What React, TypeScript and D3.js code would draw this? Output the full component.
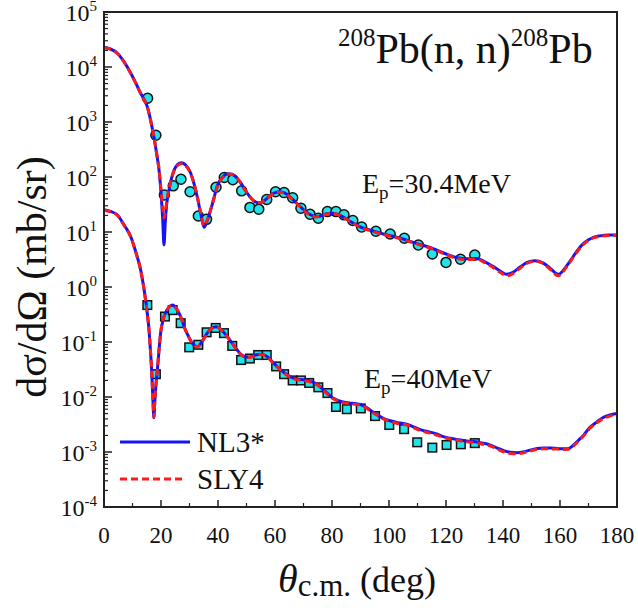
import React from "react";
import * as d3 from "d3";

// ---------- data ----------
const theta30 = [0, 2, 4.7, 7, 9.4, 11, 12.9, 14, 15.2, 16.4, 17.5, 18.5, 19.3, 20.1, 20.6, 21.05, 21.5, 22, 22.8, 23.7, 24.6, 25.8, 27.1, 28.5, 30.4, 31.6, 32.7, 33.9, 35.1, 36.2, 37.4, 38.6, 39.8, 41.5, 43.5, 45, 46.5, 48, 49.5, 51, 52.5, 54, 55.5, 57, 58.5, 60, 61.8, 63.5, 65, 66.5, 68, 69.5, 71, 72.5, 74.3, 76, 78, 80.4, 82.5, 84.5, 86.5, 88.5, 90.5, 93, 95.5, 98, 100.5, 103, 105.5, 108, 110.5, 113, 115.5, 118, 121, 124, 127, 130.8, 133.5, 136.6, 139, 141.3, 143.5, 146, 148.5, 151.2, 154, 156.5, 159.4, 162, 164, 165.8, 168, 170, 171.7, 174, 177, 180];
const nl3_30 = [22900, 21500, 17800, 12500, 7700, 5300, 3300, 2600, 1900, 1050, 540, 260, 135, 44, 17, 5.8, 15, 32, 58, 95, 134, 168, 182, 168, 118, 75, 44, 22, 12.2, 16, 25, 42, 70, 98, 115, 112, 98, 78, 58, 45, 37, 34, 35, 40, 47, 52, 54, 51, 45, 38, 32, 27, 23, 20.5, 19, 19.5, 21.5, 22, 20.5, 18, 15.5, 13.5, 12, 11, 10, 9.2, 8.6, 8.0, 7.3, 6.6, 6.0, 5.5, 5.0, 4.4, 3.8, 3.4, 3.25, 3.3, 2.9, 2.35, 1.95, 1.7, 1.85, 2.3, 2.8, 3.0, 2.75, 2.2, 1.7, 2.3, 3.2, 4.4, 6.0, 7.2, 8.0, 8.5, 8.8, 8.8];
const sly_30 = [22700, 21300, 17600, 12400, 7600, 5250, 3250, 2550, 1880, 1040, 540, 265, 140, 52, 28, 18, 22, 36, 60, 94, 130, 162, 175, 163, 116, 75, 45, 23, 13, 16.5, 25, 41, 68, 96, 113, 111, 97, 77, 58, 45, 37, 34, 35, 40, 46, 51, 53, 50, 44, 37.5, 31.5, 26.5, 22.5, 20, 18.8, 19.3, 21.2, 21.8, 20.3, 17.8, 15.3, 13.3, 11.8, 10.8, 9.8, 9.0, 8.4, 7.8, 7.1, 6.5, 5.9, 5.4, 4.9, 4.3, 3.7, 3.3, 3.15, 3.2, 2.8, 2.25, 1.85, 1.6, 1.75, 2.2, 2.7, 2.95, 2.7, 2.1, 1.6, 2.2, 3.1, 4.2, 5.8, 7.0, 7.8, 8.3, 8.6, 8.7];

const theta40 = [0, 2, 4.7, 7, 9.4, 11, 12.9, 13.8, 14.6, 15.2, 15.8, 16.3, 16.8, 17.2, 17.5, 17.8, 18.2, 18.7, 19.3, 19.9, 20.7, 21.6, 22.8, 24, 25.4, 26.9, 28.3, 29.8, 31.2, 32.7, 34.3, 36.2, 37.8, 39.4, 41.3, 43.3, 45, 46.5, 48, 49.5, 51, 52.8, 54.5, 56, 57.5, 59, 60.5, 62, 63.5, 65, 66.5, 68, 70, 72, 74, 75.5, 77, 78.5, 80, 81.6, 83.5, 86, 88, 90, 92, 94, 96, 98, 100.4, 103, 106.2, 109, 111.5, 114.4, 117, 119, 121.4, 124, 126.5, 129.6, 132.5, 135.4, 138, 140.5, 142.5, 144.8, 147, 149.5, 152, 154.2, 156.5, 159, 161, 162.8, 164.5, 166.3, 168.2, 170.5, 172.9, 175, 177.5, 180];
const nl3_40 = [25.5, 24, 20.4, 13.5, 8.2, 4.6, 2.0, 1.1, 0.58, 0.33, 0.165, 0.07, 0.025, 0.008, 0.0042, 0.008, 0.016, 0.03, 0.07, 0.15, 0.25, 0.34, 0.43, 0.47, 0.41, 0.29, 0.18, 0.122, 0.092, 0.082, 0.1, 0.145, 0.178, 0.19, 0.165, 0.125, 0.095, 0.074, 0.06, 0.054, 0.053, 0.057, 0.06, 0.059, 0.053, 0.044, 0.037, 0.031, 0.027, 0.024, 0.022, 0.021, 0.0205, 0.0195, 0.018, 0.016, 0.0135, 0.0115, 0.0098, 0.0089, 0.0082, 0.0078, 0.0076, 0.0073, 0.0065, 0.0055, 0.0047, 0.0041, 0.0037, 0.0034, 0.0032, 0.0028, 0.0025, 0.0023, 0.0021, 0.0019, 0.00178, 0.00168, 0.0016, 0.00155, 0.00146, 0.00135, 0.00118, 0.00105, 0.00099, 0.00097, 0.001, 0.00108, 0.00116, 0.00118, 0.00118, 0.00116, 0.00114, 0.00115, 0.0013, 0.0016, 0.002, 0.0028, 0.0035, 0.0042, 0.0047, 0.005];
const sly_40 = [25, 23.6, 20.1, 13.3, 8.1, 4.55, 1.98, 1.09, 0.57, 0.325, 0.163, 0.07, 0.025, 0.008, 0.0043, 0.008, 0.016, 0.031, 0.072, 0.15, 0.25, 0.34, 0.43, 0.465, 0.405, 0.285, 0.178, 0.12, 0.091, 0.081, 0.099, 0.143, 0.175, 0.187, 0.163, 0.123, 0.094, 0.073, 0.059, 0.053, 0.052, 0.056, 0.059, 0.058, 0.052, 0.043, 0.036, 0.0305, 0.0265, 0.0235, 0.0215, 0.0205, 0.02, 0.019, 0.0176, 0.0157, 0.0132, 0.0112, 0.0096, 0.0087, 0.008, 0.0076, 0.0074, 0.0071, 0.0063, 0.0053, 0.0046, 0.004, 0.0036, 0.0033, 0.0031, 0.0027, 0.0024, 0.0022, 0.002, 0.00185, 0.00172, 0.00163, 0.00155, 0.0015, 0.0014, 0.0013, 0.00113, 0.001, 0.00094, 0.00093, 0.00096, 0.00104, 0.00112, 0.00114, 0.00114, 0.00113, 0.00111, 0.00112, 0.00126, 0.00155, 0.00195, 0.0027, 0.0034, 0.004, 0.0045, 0.0048];

const expTheta30 = [15.3, 18.2, 21.2, 24.3, 27, 30.2, 33.1, 36, 39.3, 42.2, 45.2, 48.3, 51.2, 54.3, 57.1, 60.2, 63.2, 66.2, 69.1, 72.3, 75.2, 78.4, 81.4, 84.2, 87.3, 90.4, 95.4, 100.4, 105.4, 110.3, 115.2, 120, 125.1, 130.1];
const exp30 = [2700, 575, 47, 69, 91, 54, 19.5, 17, 65, 98, 89, 56, 28, 26, 39, 54, 52, 42, 27, 21, 17.8, 23.5, 23.5, 20.5, 16.2, 12.3, 10.3, 9.2, 7.7, 5.8, 4.0, 2.8, 3.2, 3.8];

const expTheta40 = [15.2, 18.2, 21.4, 24.1, 26.9, 29.9, 33.1, 36, 39.2, 42.1, 45, 48.1, 51.2, 54.1, 57.1, 60.4, 63.2, 66.2, 69.1, 72, 75.2, 78.4, 81.4, 85.2, 90.1, 95.1, 100.1, 105.3, 109.9, 115.2, 120.2, 125.2, 130.1];
const exp40 = [0.47, 0.026, 0.29, 0.38, 0.22, 0.08, 0.089, 0.15, 0.18, 0.145, 0.085, 0.047, 0.05, 0.058, 0.058, 0.036, 0.026, 0.02, 0.02, 0.018, 0.015, 0.0118, 0.0066, 0.006, 0.0062, 0.0045, 0.0031, 0.0026, 0.0015, 0.0012, 0.00134, 0.00138, 0.00145];

const xTicks = [0, 20, 40, 60, 80, 100, 120, 140, 160, 180];
const yExps = [5, 4, 3, 2, 1, 0, -1, -2, -3, -4];
const legendLabels = ["NL3*", "SLY4"];

// ---------- layout ----------
const W = 638, H = 611;
const L = 104, R = 617, T = 12, B = 507;
const FONT = "Liberation Serif, Times New Roman, serif";
const BLUE = "#1414f5";
const RED = "#ff1a1a";
const CYAN = "#22e3ea";

export default function App() {
  const x = d3.scaleLinear().domain([0, 180]).range([L, R]);
  const y = d3.scaleLog().domain([1e-4, 1e5]).range([B, T]);

  const line = d3
    .line<[number, number]>()
    .x((d) => x(d[0]))
    .y((d) => y(d[1]))
    .curve(d3.curveMonotoneX);

  const zip = (a: number[], b: number[]) => a.map((t, i) => [t, b[i]] as [number, number]);

  const minorY: number[] = [];
  for (let e = -4; e < 5; e++) {
    for (let m = 2; m <= 9; m++) minorY.push(m * Math.pow(10, e));
  }
  const xMinor = d3.range(10, 180, 20);

  return (
    <svg
      width={W}
      height={H}
      style={{ position: "absolute", left: 0, top: 0, background: "#fff" }}
    >
      <defs>
        <clipPath id="plot">
          <rect x={L} y={T} width={R - L} height={B - T} />
        </clipPath>
      </defs>

      {/* experimental points */}
      <g>
        {expTheta30.map((t, i) => (
          <circle key={"c" + i} cx={x(t)} cy={y(exp30[i])} r={5} fill={CYAN} stroke="#111" strokeWidth={1.5} />
        ))}
        {expTheta40.map((t, i) => (
          <rect
            key={"s" + i}
            x={x(t) - 4.3}
            y={y(exp40[i]) - 4.3}
            width={8.6}
            height={8.6}
            fill={CYAN}
            stroke="#111"
            strokeWidth={1.5}
          />
        ))}
      </g>

      {/* theory curves */}
      <g clipPath="url(#plot)" fill="none">
        <path d={line(zip(theta30, nl3_30)) || ""} stroke={BLUE} strokeWidth={3} />
        <path d={line(zip(theta40, nl3_40)) || ""} stroke={BLUE} strokeWidth={3} />
        <path d={line(zip(theta30, sly_30)) || ""} stroke={RED} strokeWidth={3} strokeDasharray="7,4" />
        <path d={line(zip(theta40, sly_40)) || ""} stroke={RED} strokeWidth={3} strokeDasharray="7,4" />
      </g>

      {/* frame */}
      <rect x={L} y={T} width={R - L} height={B - T} fill="none" stroke="#222" strokeWidth={2} />

      <g fontFamily={FONT} fill="#111">
        {/* y ticks */}
        {yExps.map((e) => (
          <line key={"ym" + e} x1={L} x2={L + 8} y1={y(Math.pow(10, e))} y2={y(Math.pow(10, e))} stroke="#222" strokeWidth={1.5} />
        ))}
        {minorY.map((v, i) => (
          <line key={"yn" + i} x1={L} x2={L + 4} y1={y(v)} y2={y(v)} stroke="#222" strokeWidth={1.2} />
        ))}
        {yExps.map((e) => (
          <text key={"yl" + e} x={97} y={y(Math.pow(10, e)) + 9} textAnchor="end" fontSize={24}>
            <tspan>10</tspan>
            <tspan fontSize={15} dy={-10}>{String(e)}</tspan>
          </text>
        ))}

        {/* x ticks */}
        {xTicks.map((t) => (
          <line key={"xm" + t} x1={x(t)} x2={x(t)} y1={B} y2={B - 7} stroke="#222" strokeWidth={1.5} />
        ))}
        {xMinor.map((t) => (
          <line key={"xn" + t} x1={x(t)} x2={x(t)} y1={B} y2={B - 4} stroke="#222" strokeWidth={1.2} />
        ))}
        {xTicks.map((t) => (
          <text key={"xl" + t} x={x(t)} y={543} textAnchor="middle" fontSize={23}>
            {t}
          </text>
        ))}

        {/* axis titles */}
        <text x={357} y={592} textAnchor="middle" fontSize={36}>
          <tspan fontStyle="italic" fontSize={40}>θ</tspan>
          <tspan fontSize={31} dy={4}>c.m.</tspan>
          <tspan dy={-4}> (deg)</tspan>
        </text>
        <text transform="translate(46,277) rotate(-90)" textAnchor="middle" fontSize={42}>
          dσ/dΩ (mb/sr)
        </text>

        {/* annotations */}
        <text x={338} y={63} fontSize={42}>
          <tspan fontSize={25} dy={-17}>208</tspan>
          <tspan dy={17}>Pb(n, n)</tspan>
          <tspan fontSize={25} dy={-17}>208</tspan>
          <tspan dy={17}>Pb</tspan>
        </text>
        <text x={362} y={193} fontSize={28}>
          E<tspan fontSize={19} dy={6}>p</tspan>
          <tspan dy={-6}>=30.4MeV</tspan>
        </text>
        <text x={364} y={388} fontSize={28}>
          E<tspan fontSize={19} dy={6}>p</tspan>
          <tspan dy={-6}>=40MeV</tspan>
        </text>

        {/* legend */}
        <line x1={120} x2={190} y1={442} y2={442} stroke={BLUE} strokeWidth={3} />
        <text x={197} y={452} fontSize={29}>{legendLabels[0]}</text>
        <line x1={120} x2={182} y1={479} y2={479} stroke={RED} strokeWidth={3} strokeDasharray="7,4" />
        <text x={197} y={489} fontSize={29}>{legendLabels[1]}</text>
      </g>
    </svg>
  );
}
